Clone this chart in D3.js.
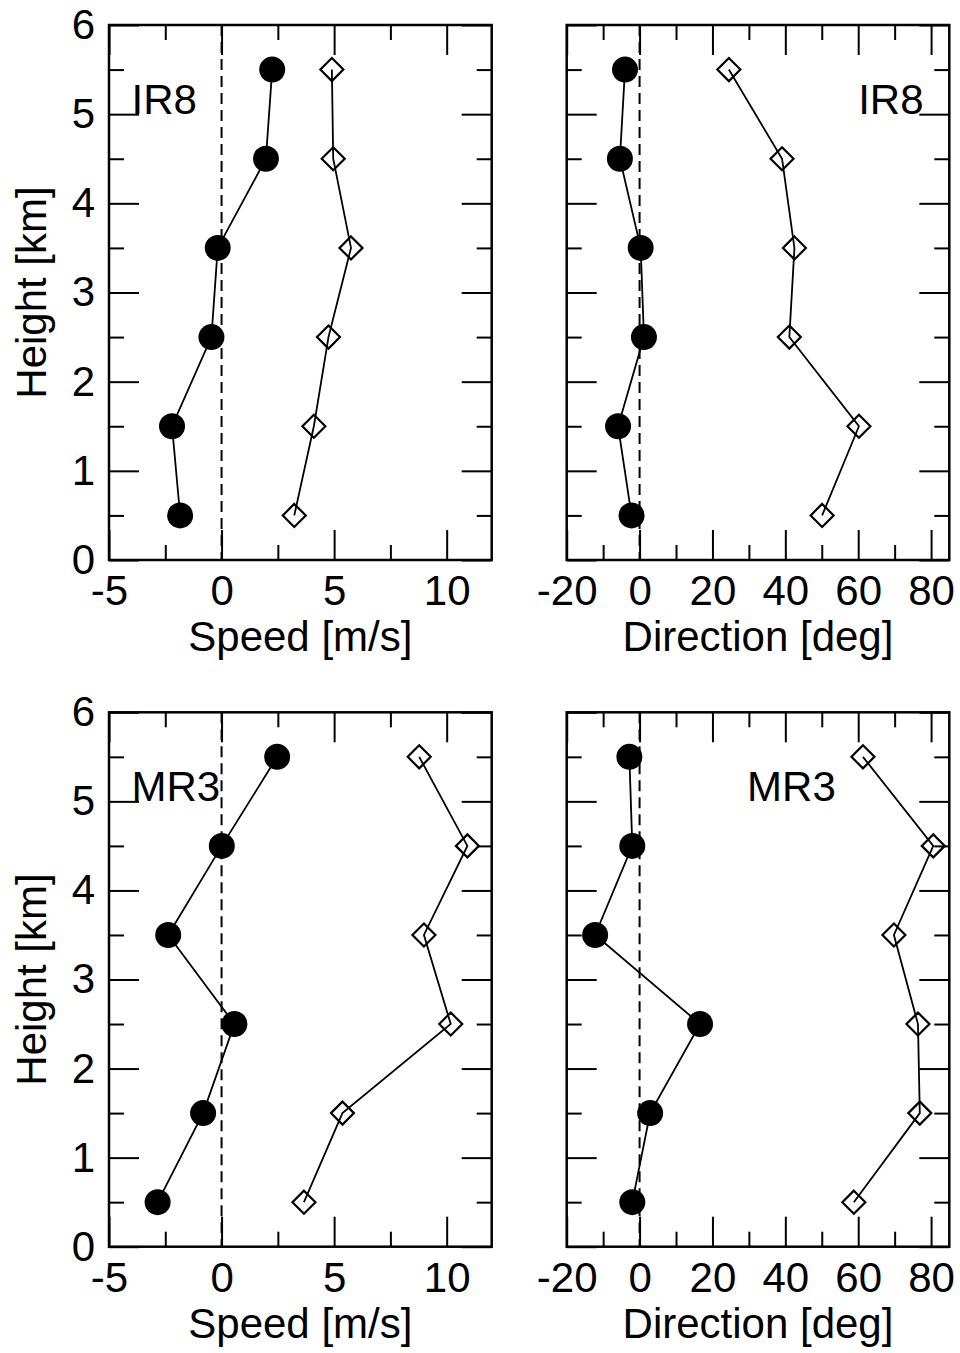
<!DOCTYPE html>
<html>
<head>
<meta charset="utf-8">
<script src="https://cdn.jsdelivr.net/npm/d3@7"></script>
<style>
  body { margin: 0; background: #fff; }
  svg { display: block; }
  text { font-family: "Liberation Sans", Arial, Helvetica, sans-serif; fill: #000; }
</style>
</head>
<body>
<svg id="chart" width="960" height="1353"></svg>
<script>
// Heights of the profile levels [km]
const heights = [0.5, 1.5, 2.5, 3.5, 4.5, 5.5];

// IR8 profiles (filled circles / open diamonds)
const ir8SpeedFilled = [-1.84, -2.2, -0.45, -0.17, 1.97, 2.25];
const ir8SpeedOpen = [3.23, 4.1, 4.75, 5.75, 4.96, 4.9];
const ir8DirFilled = [-2.2, -5.9, 1.2, 0.3, -5.4, -4.0];
const ir8DirOpen = [50.1, 60.2, 41.1, 42.5, 39.1, 24.5];

// MR3 profiles
const mr3SpeedFilled = [-2.84, -0.82, 0.57, -2.37, 0.01, 2.47];
const mr3SpeedOpen = [3.66, 5.37, 10.18, 8.99, 10.92, 8.78];
const mr3DirFilled = [-2.0, 2.9, 16.6, -12.2, -2.0, -2.8];
const mr3DirOpen = [58.8, 76.9, 76.4, 69.8, 80.6, 61.3];

// Axis ticks
const speedMajor = [-5, 0, 5, 10];
const speedMinor = [-2.5, 2.5, 7.5];
const dirMajor = [-20, 0, 20, 40, 60, 80];
const dirMinor = [-10, 10, 30, 50, 70];
const heightMajor = [0, 1, 2, 3, 4, 5, 6];
const heightMinor = [0.5, 1.5, 2.5, 3.5, 4.5, 5.5];

const svg = d3.select('#chart');
const FONT = 42;

const colLeft = { x0: 109, x1: 491.7 };
const colRight = { x0: 566.7, x1: 949.3 };
const rowTop = { y0: 25, y1: 560 };
const rowBottom = { y0: 712.3, y1: 1246.7 };

// plain hyphen for negatives, like the original
const fmt = d => String(d);

const panels = [
  { col: colLeft, row: rowTop, domain: [-5, 12], major: speedMajor, minor: speedMinor,
    filled: ir8SpeedFilled, open: ir8SpeedOpen, label: 'IR8', labelX: -4,
    title: 'Speed [m/s]', yLabels: true },
  { col: colRight, row: rowTop, domain: [-20, 85], major: dirMajor, minor: dirMinor,
    filled: ir8DirFilled, open: ir8DirOpen, label: 'IR8', labelX: 60,
    title: 'Direction [deg]', yLabels: false },
  { col: colLeft, row: rowBottom, domain: [-5, 12], major: speedMajor, minor: speedMinor,
    filled: mr3SpeedFilled, open: mr3SpeedOpen, label: 'MR3', labelX: -4,
    title: 'Speed [m/s]', yLabels: true },
  { col: colRight, row: rowBottom, domain: [-20, 85], major: dirMajor, minor: dirMinor,
    filled: mr3DirFilled, open: mr3DirOpen, label: 'MR3', labelX: 29.5,
    title: 'Direction [deg]', yLabels: false }
];

function styleAxis(sel) {
  sel.select('.domain').remove();
  sel.selectAll('.tick line').attr('stroke', '#000').attr('stroke-width', 2);
  sel.selectAll('.tick text')
    .style('font-size', FONT + 'px')
    .style('font-family', '"Liberation Sans", Arial, sans-serif')
    .attr('fill', '#000');
}

function drawPanel(p) {
  const x = d3.scaleLinear().domain(p.domain).range([p.col.x0, p.col.x1]);
  const y = d3.scaleLinear().domain([0, 6]).range([p.row.y1, p.row.y0]);
  const g = svg.append('g');

  // minor ticks, inward on all four sides
  g.append('g').attr('transform', `translate(0,${p.row.y1})`)
    .call(d3.axisBottom(x).tickValues(p.minor).tickSize(-15).tickFormat(''))
    .call(styleAxis);
  g.append('g').attr('transform', `translate(0,${p.row.y0})`)
    .call(d3.axisTop(x).tickValues(p.minor).tickSize(-15).tickFormat(''))
    .call(styleAxis);
  g.append('g').attr('transform', `translate(${p.col.x0},0)`)
    .call(d3.axisLeft(y).tickValues(heightMinor).tickSize(-15).tickFormat(''))
    .call(styleAxis);
  g.append('g').attr('transform', `translate(${p.col.x1},0)`)
    .call(d3.axisRight(y).tickValues(heightMinor).tickSize(-15).tickFormat(''))
    .call(styleAxis);

  // major ticks
  g.append('g').attr('transform', `translate(0,${p.row.y1})`)
    .call(d3.axisBottom(x).tickValues(p.major).tickSize(-30).tickPadding(15).tickFormat(fmt))
    .call(styleAxis);
  g.append('g').attr('transform', `translate(0,${p.row.y0})`)
    .call(d3.axisTop(x).tickValues(p.major).tickSize(-30).tickFormat(''))
    .call(styleAxis);
  g.append('g').attr('transform', `translate(${p.col.x0},0)`)
    .call(d3.axisLeft(y).tickValues(heightMajor).tickSize(-30).tickPadding(14)
      .tickFormat(p.yLabels ? fmt : ''))
    .call(styleAxis);
  g.append('g').attr('transform', `translate(${p.col.x1},0)`)
    .call(d3.axisRight(y).tickValues(heightMajor).tickSize(-30).tickFormat(''))
    .call(styleAxis);

  // frame
  g.append('rect')
    .attr('x', p.col.x0).attr('y', p.row.y0)
    .attr('width', p.col.x1 - p.col.x0).attr('height', p.row.y1 - p.row.y0)
    .attr('fill', 'none').attr('stroke', '#000').attr('stroke-width', 2.5);

  // zero line
  g.append('line')
    .attr('x1', x(0)).attr('x2', x(0))
    .attr('y1', p.row.y0).attr('y2', p.row.y1)
    .attr('stroke', '#000').attr('stroke-width', 2)
    .attr('stroke-dasharray', '11,6');

  const line = d3.line()
    .x(d => x(d[0]))
    .y(d => y(d[1]));

  const filledPts = p.filled.map((v, i) => [v, heights[i]]);
  const openPts = p.open.map((v, i) => [v, heights[i]]);

  g.append('path').datum(filledPts)
    .attr('d', line).attr('fill', 'none')
    .attr('stroke', '#000').attr('stroke-width', 1.8);
  g.append('path').datum(openPts)
    .attr('d', line).attr('fill', 'none')
    .attr('stroke', '#000').attr('stroke-width', 1.8);

  g.selectAll('.dot').data(filledPts).enter().append('circle')
    .attr('class', 'dot')
    .attr('cx', d => x(d[0])).attr('cy', d => y(d[1]))
    .attr('r', 13).attr('fill', '#000');

  const s = 11.5;
  g.selectAll('.diamond').data(openPts).enter().append('path')
    .attr('class', 'diamond')
    .attr('transform', d => `translate(${x(d[0])},${y(d[1])})`)
    .attr('d', `M0,${-s}L${s},0L0,${s}L${-s},0Z`)
    .attr('fill', 'none').attr('stroke', '#000').attr('stroke-width', 2.2);

  // panel label, baseline on the 5 km tick
  g.append('text')
    .attr('x', x(p.labelX)).attr('y', y(5))
    .style('font-size', FONT + 'px')
    .text(p.label);

  // x title
  g.append('text')
    .attr('x', (p.col.x0 + p.col.x1) / 2).attr('y', p.row.y1 + 91)
    .attr('text-anchor', 'middle')
    .style('font-size', FONT + 'px')
    .text(p.title);

  // y title
  if (p.yLabels) {
    const cy = (p.row.y0 + p.row.y1) / 2;
    g.append('text')
      .attr('transform', `translate(46,${cy}) rotate(-90)`)
      .attr('text-anchor', 'middle')
      .style('font-size', FONT + 'px')
      .text('Height [km]');
  }
}

panels.forEach(drawPanel);
</script>
</body>
</html>
